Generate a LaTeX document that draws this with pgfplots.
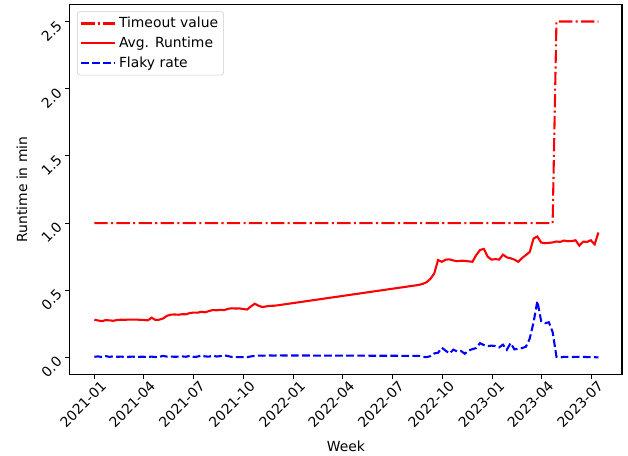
\documentclass[border=0pt]{standalone}
\usepackage{fontspec}
\setmainfont{DejaVu Sans}
\usepackage{pgfplots}
\usepackage{pgfplotstable}
\pgfplotsset{compat=1.18}
\pgfplotstableread{
day rt fl
0 0.281 0.005
7 0.275 0.008
14 0.270 0.003
21 0.278 0.010
28 0.276 0.004
35 0.273 0.009
42 0.279 0.005
49 0.281 0.006
56 0.280 0.004
63 0.282 0.005
70 0.281 0.006
77 0.282 0.004
84 0.280 0.005
91 0.279 0.005
98 0.276 0.004
105 0.296 0.006
112 0.279 0.003
119 0.281 0.004
126 0.290 0.012
133 0.310 0.006
140 0.318 0.007
147 0.320 0.005
154 0.318 0.006
161 0.322 0.008
168 0.321 0.005
175 0.331 0.013
182 0.334 0.004
189 0.333 0.006
196 0.340 0.015
203 0.336 0.008
210 0.345 0.006
217 0.353 0.014
224 0.351 0.007
231 0.354 0.010
238 0.352 0.016
245 0.362 0.010
252 0.366 0.004
259 0.364 0.002
266 0.365 0.003
273 0.360 0.002
280 0.357 0.002
287 0.380 0.008
294 0.400 0.012
301 0.385 0.014
308 0.375 0.013
315 0.380 0.014
322 0.384 0.015
329 0.385 0.014
336 0.388 0.015
595 0.540 0.012
602 0.548 0.005
609 0.560 0.002
616 0.585 0.010
623 0.625 0.030
630 0.725 0.035
637 0.712 0.072
644 0.728 0.050
651 0.730 0.030
658 0.722 0.058
665 0.716 0.045
672 0.720 0.048
679 0.719 0.028
686 0.715 0.052
693 0.712 0.062
700 0.762 0.070
707 0.800 0.107
714 0.808 0.092
721 0.750 0.085
728 0.728 0.088
735 0.732 0.085
742 0.728 0.075
749 0.765 0.095
756 0.745 0.057
763 0.738 0.107
770 0.728 0.060
777 0.712 0.065
784 0.740 0.070
791 0.762 0.080
798 0.785 0.140
805 0.885 0.260
812 0.900 0.420
819 0.855 0.270
826 0.850 0.255
833 0.853 0.262
840 0.856 0.190
847 0.863 0.005
854 0.860 0.000
861 0.870 0.005
868 0.865 0.004
875 0.866 0.003
882 0.872 0.004
889 0.832 0.005
896 0.862 0.004
903 0.860 0.003
910 0.872 0.003
917 0.842 0.002
924 0.930 0.000
}\datatable
\pgfplotstableread{
day to
0 1.0
840 1.0
847 2.5
924 2.5
}\timeouttable
\begin{document}
\begin{tikzpicture}
\begin{axis}[
  scale only axis,
  width=397.6pt, height=266.1pt,
  xmin=-44.9, xmax=967.2,
  ymin=-0.125, ymax=2.625,
  xtick={0,90,181,273,365,455,546,638,730,820,911},
  xticklabels={2021-01,2021-04,2021-07,2021-10,2022-01,2022-04,2022-07,2022-10,2023-01,2023-04,2023-07},
  ytick={0,0.5,1,1.5,2,2.5},
  yticklabel style={/pgf/number format/fixed,/pgf/number format/fixed zerofill,/pgf/number format/precision=1},
  /pgf/number format/assume math mode=true,
  tick pos=left,
  tick align=outside,
  major tick length=3.5pt,
  every tick/.style={black, line width=0.8pt},
  axis line style={line width=0.8pt},
  ticklabel style={font=\fontsize{10}{12}\selectfont},
  xticklabel style={rotate=45, anchor=north east, inner sep=0pt, xshift=2.5pt, yshift=-3pt},
  yticklabel style={rotate=45, anchor=south east, inner sep=0pt, xshift=-3.5pt, yshift=-2pt},
  xlabel={Week}, ylabel={Runtime in min},
  every axis x label/.style={at={(axis description cs:0.5,-0.1945)}, anchor=center, font=\fontsize{10}{12}\selectfont},
  every axis y label/.style={at={(axis description cs:-0.0866,0.5)}, rotate=90, anchor=center, font=\fontsize{10}{12}\selectfont},
  legend style={at={(0,1)}, anchor=north west, xshift=5.2pt, yshift=-4.8pt,
    draw=black!20, rounded corners=2pt, fill=white, fill opacity=0.8, text opacity=1,
    font=\fontsize{10}{12}\selectfont, row sep=1.2pt, inner xsep=2pt, inner ysep=2pt},
  legend cell align=left,
  legend image code/.code={\draw[#1] (0pt,0pt) -- (20pt,0pt); \path (0pt,0pt) -- (24.5pt,0pt);},
]
\addplot[red, line width=1.5pt, dash pattern=on 9.6pt off 2.4pt on 1.5pt off 2.4pt] table[x=day, y=to] {\timeouttable};
\addlegendentry{Timeout value}
\addplot[red, line width=1.5pt] table[x=day, y=rt] {\datatable};
\addlegendentry{Avg. Runtime}
\addplot[blue, line width=1.5pt, dash pattern=on 5.55pt off 2.4pt] table[x=day, y=fl] {\datatable};
\addlegendentry{Flaky rate}
\end{axis}
\pgfresetboundingbox
\useasboundingbox ([xshift=-50.3pt,yshift=-58.8pt]current axis.south west) rectangle ([xshift=4.3pt,yshift=3.4pt]current axis.north east);
\end{tikzpicture}
\end{document}
